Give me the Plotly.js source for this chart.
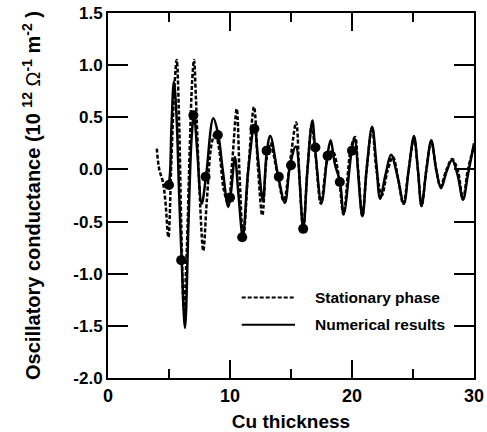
<!DOCTYPE html>
<html><head><meta charset="utf-8">
<script src="https://cdn.plot.ly/plotly-3.0.1.min.js"></script>
<style>html,body{margin:0;padding:0;background:#fff}#chart{width:487px;height:432px}</style>
</head><body><div id="chart"></div>
<script>
// Stationary phase (dashed)
const stationaryX = [4.0,4.2,4.5,4.7,4.95,5.2,5.45,5.63,5.8,6.0,6.22,6.45,6.7,6.9,7.05,7.2,7.5,7.81,8.1,8.5,8.8,9.1,9.5,9.86,10.2,10.55,10.8,11.08,11.5,11.97,12.3,12.65,13.0,13.3,13.9,14.4,14.95,15.42,15.7,16.0,16.35,16.7,17.0,17.45,18.0,18.4,18.9,19.3,19.9,20.25,20.5,20.85,21.2,21.65,22.0,22.45,22.9,23.35,23.8,24.2,24.65,25.08,25.4,25.7,26.1,26.5,26.9,27.25,27.75,28.2,28.65,29.1,29.5,30.0];
const stationaryY = [0.2,0.0,-0.12,-0.3,-0.65,0.1,0.8,1.05,0.6,-0.5,-1.35,-0.8,0.2,0.85,1.05,0.7,-0.2,-0.78,-0.3,0.25,0.35,0.2,-0.2,-0.33,0.1,0.58,-0.1,-0.67,0.0,0.6,0.0,-0.44,0.1,0.25,-0.05,-0.3,0.1,0.45,-0.1,-0.57,0.0,0.42,0.15,-0.33,0.1,0.18,-0.05,-0.43,0.2,0.31,0.0,-0.45,0.0,0.4,0.0,-0.25,-0.02,0.12,-0.1,-0.33,0.0,0.3,0.0,-0.35,0.0,0.27,0.0,-0.16,0.0,0.1,0.0,-0.28,0.0,0.22];
// Numerical results (solid)
const numericalX = [4.85,5.0,5.2,5.4,5.6,5.85,6.04,6.31,6.6,6.85,7.05,7.3,7.68,8.03,8.63,9.04,9.4,9.86,10.1,10.4,10.7,11.05,11.5,12.0,12.3,12.7,13.0,13.3,13.96,14.5,14.92,15.4,16.0,16.35,16.75,16.97,17.5,17.98,18.25,18.6,19.02,19.32,19.97,20.2,20.85,21.2,21.65,22.0,22.3,22.75,23.2,23.7,24.25,24.65,25.08,25.4,25.7,26.1,26.5,26.9,27.3,27.75,28.2,28.65,29.1,29.5,30.0];
const numericalY = [-0.15,-0.12,0.4,0.84,0.55,-0.3,-0.87,-1.52,-0.5,0.3,0.53,0.2,-0.33,-0.07,0.49,0.33,0.0,-0.36,-0.2,0.12,-0.25,-0.64,0.0,0.41,0.1,-0.3,0.15,0.32,-0.07,-0.32,0.04,0.22,-0.56,0.0,0.47,0.21,-0.32,0.13,0.28,0.05,-0.12,-0.43,0.18,0.3,-0.45,0.0,0.41,0.05,-0.28,-0.05,0.14,-0.05,-0.33,0.0,0.32,0.0,-0.35,0.0,0.28,0.0,-0.18,-0.02,0.09,-0.05,-0.29,-0.05,0.25];
// Filled circles
const pointX = [5,6,7,8,9,10,11,12,13,14,15,16,17,18,19,20];
const pointY = [-0.15,-0.87,0.52,-0.07,0.33,-0.27,-0.65,0.39,0.18,-0.07,0.04,-0.57,0.21,0.13,-0.12,0.18];

const xTickVals = [0,10,20,30];
const xMinorTickVals = [5,15,25];
const yTickVals = [-2.0,-1.5,-1.0,-0.5,0.0,0.5,1.0,1.5];
const legendNames = ['Stationary phase','Numerical results'];

const FONT = 'Liberation Sans, Arial, Helvetica, sans-serif';

const traces = [
  {x: stationaryX, y: stationaryY, mode:'lines', name: legendNames[0],
   line:{color:'#000', width:2.5, dash:'4px,2px', shape:'spline', smoothing:1}, showlegend:false, hoverinfo:'skip'},
  {x: numericalX, y: numericalY, mode:'lines', name: legendNames[1],
   line:{color:'#000', width:2.5, shape:'spline', smoothing:1}, showlegend:false, hoverinfo:'skip'},
  {x: pointX, y: pointY, mode:'markers', name:'points',
   marker:{color:'#000', size:10}, showlegend:false, hoverinfo:'skip'}
];

const layout = {
  width:487, height:432,
  margin:{l:108, r:13, t:13, b:54},
  paper_bgcolor:'#fff', plot_bgcolor:'#fff',
  showlegend:false,
  font:{family:FONT, color:'#000'},
  xaxis:{
    range:[0,30], tickvals:xTickVals, ticktext:xTickVals.map(String),
    ticks:'inside', ticklen:18, tickwidth:2, tickcolor:'#000',
    minor:{tickvals:xMinorTickVals, ticks:'inside', ticklen:9, tickwidth:2, tickcolor:'#000'},
    showline:true, linewidth:2, linecolor:'#000', mirror:'ticks',
    showgrid:false, zeroline:false,
    tickfont:{family:FONT, size:18, weight:'bold', color:'#000'},
    title:{text:'Cu thickness', font:{family:FONT, size:19, weight:'bold', color:'#000'}, standoff:10}
  },
  yaxis:{
    range:[-2,1.5], tickvals:yTickVals, ticktext:yTickVals.map(v=>v.toFixed(1)),
    ticks:'inside', ticklen:20, tickwidth:2, tickcolor:'#000',
    showline:true, linewidth:2, linecolor:'#000', mirror:'ticks',
    showgrid:false, zeroline:false,
    tickfont:{family:FONT, size:17, weight:'bold', color:'#000'},
    title:{text:'Oscillatory conductance (10 <sup>12</sup> <span style="font-weight:normal">\u03A9</span><sup>-1</sup> m<sup>-2</sup> )', font:{family:FONT, size:20, weight:'bold', color:'#000'}, standoff:27}
  },
  shapes:[
    {type:'line', xref:'x', yref:'y', x0:10.96, x1:15.33, y0:-1.228, y1:-1.228, line:{color:'#000', width:2, dash:'4px,2px'}},
    {type:'line', xref:'x', yref:'y', x0:10.96, x1:15.33, y0:-1.49, y1:-1.49, line:{color:'#000', width:2}}
  ],
  annotations:[
    {xref:'x', yref:'y', x:16.8, y:-1.228, text:legendNames[0], showarrow:false, xanchor:'left', yanchor:'middle', font:{family:FONT, size:15.5, weight:'bold', color:'#000'}},
    {xref:'x', yref:'y', x:16.8, y:-1.49, text:legendNames[1], showarrow:false, xanchor:'left', yanchor:'middle', font:{family:FONT, size:15.5, weight:'bold', color:'#000'}}
  ]
};

Plotly.newPlot('chart', traces, layout, {staticPlot:true, displayModeBar:false});
</script>
</body></html>
